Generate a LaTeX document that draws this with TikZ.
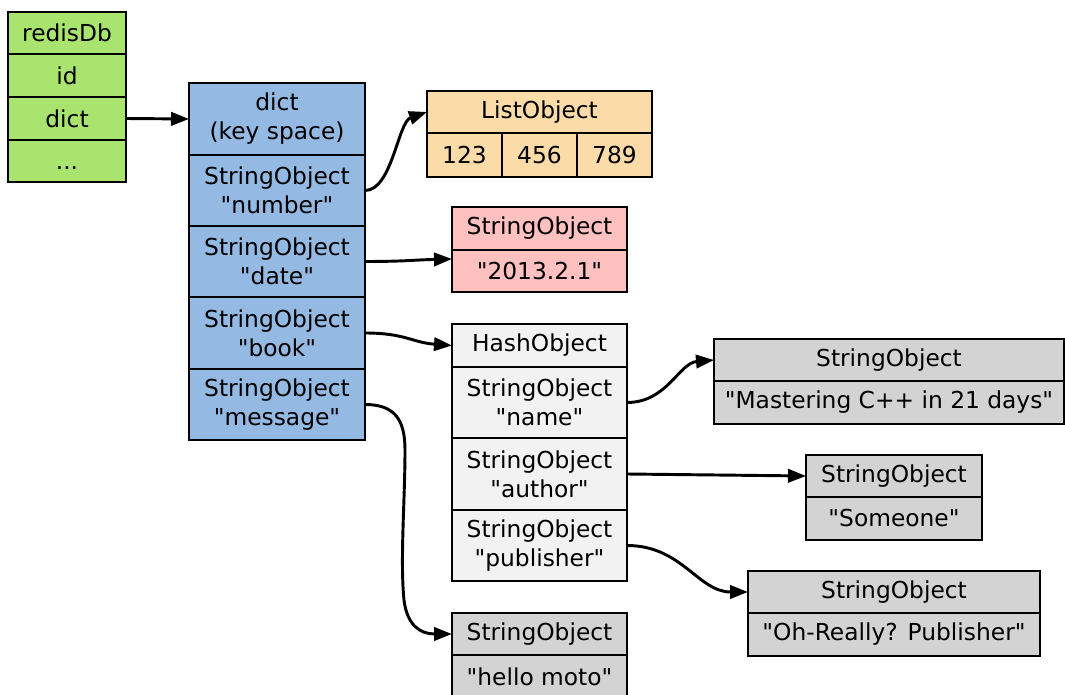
\documentclass[tikz,border=0pt]{standalone}
\usepackage{fontspec}
\setmainfont{DejaVu Sans}[Ligatures=TeXOff]
\usetikzlibrary{arrows.meta}
\definecolor{cgreen}{HTML}{A9E46E}
\definecolor{cblue}{HTML}{94B9E2}
\definecolor{corange}{HTML}{FBDCA8}
\definecolor{cpink}{HTML}{FFC0C0}
\definecolor{clight}{HTML}{F2F2F2}
\definecolor{cgray}{HTML}{D3D3D3}
\newcommand{\cell}[7]{\node[cellbox, fill=#6, minimum width={(#4-#2)*0.75pt}, minimum height={(#5-#3)*0.75pt}] (#1) at ({(#2+#4)/2},{(#3+#5)/2}) {#7};}
\tikzset{
  cellbox/.style={draw=black, line width=1pt, inner sep=0pt, outer sep=0pt, align=center,
    font=\fontsize{17.5}{21.8}\selectfont},
  edge/.style={line width=2.2pt, -{Triangle[length=13.5pt,width=10pt]}}
}
\begin{document}
\begin{tikzpicture}[x=0.75pt,y=-0.75pt]
\useasboundingbox (0,0) rectangle (1065,695);
\fill[white] (0,0) rectangle (1065,695);
% redisDb
\cell{r0}{8}{12}{126}{54}{cgreen}{redisDb}
\cell{r1}{8}{54}{126}{97}{cgreen}{id}
\cell{r2}{8}{97}{126}{140}{cgreen}{dict}
\cell{r3}{8}{140}{126}{182}{cgreen}{\vphantom{d}...}
% dict
\cell{d0}{189}{83}{365}{155}{cblue}{dict\\(key space)}
\cell{d1}{189}{155}{365}{226}{cblue}{StringObject\\"number"}
\cell{d2}{189}{226}{365}{297}{cblue}{StringObject\\"date"}
\cell{d3}{189}{297}{365}{369}{cblue}{StringObject\\"book"}
\cell{d4}{189}{369}{365}{440}{cblue}{StringObject\\"message"}
% ListObject
\cell{l0}{427}{91}{652}{133}{corange}{ListObject}
\cell{l1}{427}{133}{502}{177}{corange}{123}
\cell{l2}{502}{133}{577}{177}{corange}{456}
\cell{l3}{577}{133}{652}{177}{corange}{789}
% date string
\cell{s0}{452}{207}{627}{250}{cpink}{StringObject}
\cell{s1}{452}{250}{627}{292}{cpink}{"2013.2.1"}
% HashObject
\cell{h0}{452}{324}{627}{367}{clight}{HashObject}
\cell{h1}{452}{367}{627}{438}{clight}{StringObject\\"name"}
\cell{h2}{452}{438}{627}{510}{clight}{StringObject\\"author"}
\cell{h3}{452}{510}{627}{581}{clight}{StringObject\\"publisher"}
% name value
\cell{m0}{714}{339}{1064}{381}{cgray}{StringObject}
\cell{m1}{714}{381}{1064}{424}{cgray}{"Mastering C++ in 21 days"}
% author value
\cell{a0}{806}{455}{982}{497}{cgray}{StringObject}
\cell{a1}{806}{497}{982}{540}{cgray}{"Someone"}
% publisher value
\cell{p0}{748}{571}{1040}{613}{cgray}{StringObject}
\cell{p1}{748}{613}{1040}{656}{cgray}{"Oh-Really? Publisher"}
% message value
\cell{g0}{452}{613}{627}{655}{cgray}{StringObject}
\cell{g1}{452}{655}{627}{698}{cgray}{"hello moto"}
% edges
\draw[edge] (r2.east) -- (d0.west);
\draw[edge] (d1.east) .. controls +(27,0) and +(-29,10) .. (l0.west);
\draw[edge] (d2.east) .. controls +(40,0) and +(-40,1) .. ([yshift=9pt]s1.west);
\draw[edge] (d3.east) .. controls +(40,0) and +(-40,-3) .. (h0.west);
\draw[edge] (d4.east) .. controls +(30,0) and +(0,-30) .. (405,450)
  .. controls (405,500) and (400,560) .. (404,600)
  .. controls (407,625) and (420,634) .. (g0.west);
\draw[edge] (h1.east) .. controls +(40,0) and +(-35,3) .. (m0.west);
\draw[edge] (h2.east) -- (a0.west);
\draw[edge] (h3.east) .. controls +(55,0) and +(-50,0) .. (p0.west);
\end{tikzpicture}
\end{document}
